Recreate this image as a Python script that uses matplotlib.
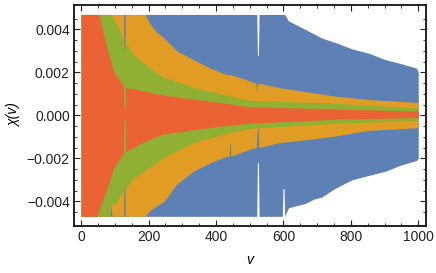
import numpy as np
import matplotlib.pyplot as plt

plt.rcParams['font.family'] = ['Liberation Sans', 'DejaVu Sans']

# envelope of each series (upper / lower edge of the dense oscillation)
v_blue = [0, 521, 523, 526, 528, 597, 599, 602, 604, 615, 640, 665, 690, 714, 753, 803, 852, 902, 951, 995, 1000]
blue_hi = [0.0047, 0.0047, 0.0028, 0.0028, 0.0047, 0.0047, 0.0047, 0.0047, 0.0047, 0.0044, 0.0042, 0.0040,
           0.0038, 0.0036, 0.0034, 0.0031, 0.0029, 0.0026, 0.0024, 0.0022, 0.0020]
blue_lo = [-0.0047, -0.0047, -0.0022, -0.0022, -0.0047, -0.0047, -0.0034, -0.0034, -0.0047, -0.0043, -0.0042,
           -0.0041, -0.0039, -0.0038, -0.0034, -0.0030, -0.0028, -0.0026, -0.0023, -0.0021, -0.0020]

v_orange = [0, 87, 88, 90, 91, 126, 127, 130, 131, 190, 200, 216, 246, 284, 333, 383, 432, 440, 441, 443, 444,
            501, 518, 520, 523, 526, 527, 585, 685, 753, 852, 1000]
orange_hi = [0.0047, 0.0047, 0.0047, 0.0047, 0.0047, 0.0047, 0.0031, 0.0031, 0.0047, 0.0047, 0.0044, 0.0040,
             0.0036, 0.0030, 0.0026, 0.0022, 0.0019, 0.0019, 0.0019, 0.0019, 0.0019, 0.0016, 0.0015, 0.0011,
             0.0015, 0.0015, 0.0015, 0.0013, 0.00106, 0.0009, 0.00074, 0.0006]
orange_lo = [-0.0047, -0.0047, -0.0043, -0.0043, -0.0047, -0.0047, -0.0033, -0.0033, -0.0047, -0.0047, -0.0045,
             -0.0043, -0.0040, -0.0032, -0.0026, -0.0022, -0.0019, -0.0019, -0.0013, -0.0013, -0.0019,
             -0.00157, -0.0015, -0.0015, -0.0006, -0.0006, -0.0015, -0.00128, -0.0011, -0.00096, -0.0007,
             -0.00057]

v_green = [0, 86, 89, 107, 126, 127, 130, 131, 157, 196, 240, 333, 432, 501, 753, 1000]
green_hi = [0.0047, 0.0047, 0.0047, 0.0042, 0.0035, 0.0031, 0.0031, 0.0034, 0.0028, 0.0023, 0.0018, 0.0013,
            0.00094, 0.0007, 0.00057, 0.00034]
green_lo = [-0.0047, -0.0047, -0.0042, -0.0040, -0.0035, -0.0034, -0.0034, -0.0034, -0.0029, -0.0025, -0.0020,
            -0.00126, -0.00083, -0.0006, -0.00037, -0.00023]

v_red = [0, 50, 53, 77, 98, 120, 126, 127, 131, 132, 178, 240, 412, 501, 753, 1000]
red_hi = [0.0047, 0.0047, 0.0047, 0.0031, 0.0020, 0.0015, 0.0014, 0.0003, 0.0003, 0.0013, 0.00117, 0.00095,
          0.0006, 0.0004, 0.00029, 0.0002]
red_lo = [-0.0047, -0.0047, -0.0044, -0.0034, -0.0024, -0.0019, -0.0018, -0.0002, -0.0002, -0.0017, -0.0013,
          -0.00088, -0.0005, -0.00036, -0.00018, -0.0001]

series = [
    (v_blue, blue_lo, blue_hi, '#5E81B5'),
    (v_orange, orange_lo, orange_hi, '#E19C24'),
    (v_green, green_lo, green_hi, '#8FB032'),
    (v_red, red_lo, red_hi, '#EB6235'),
]

fig = plt.figure(figsize=(4.36, 2.73), dpi=100)
ax = fig.add_axes([74 / 436, 1 - 226 / 273, 352 / 436, 221 / 273])

for v, lo, hi, c in series:
    ax.fill_between(v, lo, hi, color=c, linewidth=0)

ax.set_xlim(-21, 1023)
ax.set_ylim(-0.00515, 0.00514)
ax.set_xticks([0, 200, 400, 600, 800, 1000])
ax.set_xticks(np.arange(0, 1001, 50), minor=True)
ax.set_yticks([-0.004, -0.002, 0.0, 0.002, 0.004])
ax.set_yticks(np.arange(-0.0045, 0.0046, 0.0005), minor=True)
ax.set_yticklabels(['\u22120.004', '\u22120.002', '0.000', '0.002', '0.004'])
ax.tick_params(which='both', direction='in', top=True, right=True, labelsize=10, colors='#222222', pad=3)
ax.tick_params(which='major', length=4, width=0.8)
ax.tick_params(which='minor', length=2, width=0.6)
for s in ax.spines.values():
    s.set_linewidth(1.3)
    s.set_color('#111111')

ax.set_xlabel('v', fontsize=10, fontstyle='italic', labelpad=6)
ax.set_ylabel('\u03c7(v)', fontsize=10, fontstyle='italic', labelpad=4)

fig.savefig('out.png', dpi=100)
